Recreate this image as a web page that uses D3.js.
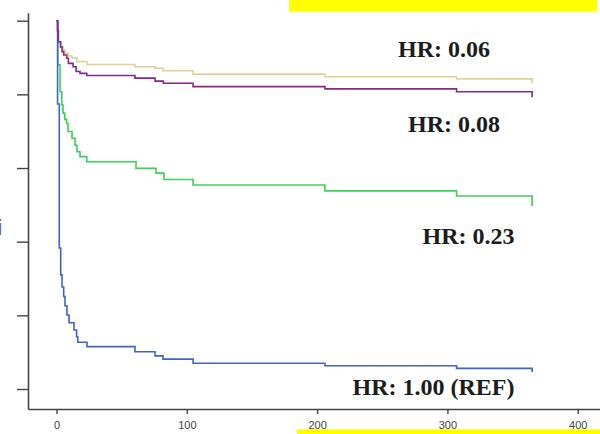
<!DOCTYPE html>
<html>
<head>
<meta charset="utf-8">
<script src="https://cdn.jsdelivr.net/npm/d3@7"></script>
<style>
  html, body { margin: 0; padding: 0; background: #fff; }
  svg { display: block; }
</style>
</head>
<body>
<svg id="chart" width="600" height="434"></svg>
<script>
// ---- data (days, survival proportion) ----
const xTicks = [0, 100, 200, 300, 400];
const yTicks = [0, 0.2, 0.4, 0.6, 0.8, 1.0];

const yellowTime = [0, 0.8, 1.4, 2.7, 5.0, 6.5, 9.1, 11.9, 15.7, 23.4, 60.2, 75.6, 81.7, 104.8, 206, 307, 365, 365];
const yellowSurv = [1.0, 0.973, 0.939, 0.929, 0.92, 0.912, 0.904, 0.899, 0.889, 0.881, 0.875, 0.871, 0.864, 0.855, 0.848, 0.842, 0.842, 0.83];

const purpleTime = [0, 0.8, 1.4, 3.2, 4.2, 5.5, 7.8, 9.1, 12.7, 15.0, 18.0, 23.2, 60.2, 75.6, 82.0, 104.8, 206, 307, 365, 365];
const purpleSurv = [1.0, 0.973, 0.943, 0.929, 0.916, 0.907, 0.898, 0.884, 0.875, 0.862, 0.857, 0.851, 0.844, 0.836, 0.83, 0.821, 0.815, 0.807, 0.807, 0.792];

const greenTime = [0, 1.0, 2.7, 4.0, 5.0, 6.3, 7.8, 8.8, 11.9, 14.2, 15.7, 18.0, 23.2, 61.0, 76.4, 82.5, 104.8, 206, 307, 365, 365];
const greenSurv = [1.0, 0.88, 0.807, 0.771, 0.749, 0.732, 0.721, 0.699, 0.681, 0.662, 0.644, 0.631, 0.617, 0.599, 0.586, 0.569, 0.554, 0.538, 0.524, 0.524, 0.497];

const blueTime = [0, 0.8, 2.1, 3.2, 4.2, 5.5, 6.5, 8.0, 9.6, 13.4, 15.4, 16.3, 23.4, 60.2, 75.6, 81.7, 104.8, 206, 307, 365, 365];
const blueSurv = [1.0, 0.774, 0.383, 0.31, 0.277, 0.251, 0.226, 0.201, 0.18, 0.16, 0.142, 0.127, 0.115, 0.101, 0.09, 0.081, 0.07, 0.063, 0.056, 0.056, 0.046];

const seriesNames = ["yellow", "green", "blue", "purple"];
const seriesColors = { yellow: "#ddd396", green: "#3ccf5a", blue: "#4262cc", purple: "#84288a" };
const seriesData = {
  yellow: [yellowTime, yellowSurv],
  green: [greenTime, greenSurv],
  blue: [blueTime, blueSurv],
  purple: [purpleTime, purpleSurv]
};

const hrLabels = ["HR: 0.06", "HR: 0.08", "HR: 0.23", "HR: 1.00 (REF)"];

// ---- drawing ----
const svg = d3.select("#chart");

const x = d3.scaleLinear().domain([-21.9, 417.1]).range([28, 600]);
const y = d3.scaleLinear().domain([-0.0543, 1.0217]).range([409, 12.7]);

// highlight bands
svg.append("rect").attr("x", 289).attr("y", 0).attr("width", 308).attr("height", 11.7).attr("fill", "#ffff00");
svg.append("rect").attr("x", 297).attr("y", 429.3).attr("width", 303).attr("height", 5).attr("fill", "#ffff00");

// axes
const axisColor = "#444";
const xAxis = svg.append("g").attr("transform", `translate(0,409)`)
  .call(d3.axisBottom(x).tickValues(xTicks).tickSize(5).tickSizeOuter(0).tickFormat(d3.format("d")));
xAxis.select(".domain").attr("stroke", axisColor).attr("stroke-width", 1.6);
xAxis.selectAll(".tick line").attr("stroke", axisColor).attr("stroke-width", 1.4);
xAxis.selectAll(".tick text").attr("fill", "#444").attr("font-family", "Liberation Sans, Arial, sans-serif")
  .attr("font-size", 11).attr("dy", null).attr("y", 19.5);

const yAxis = svg.append("g").attr("transform", `translate(28,0)`)
  .call(d3.axisLeft(y).tickValues(yTicks).tickSize(11).tickSizeOuter(0).tickFormat(""));
yAxis.select(".domain").attr("stroke", axisColor).attr("stroke-width", 1.6);
yAxis.selectAll(".tick line").attr("stroke", axisColor).attr("stroke-width", 1.4);

// cropped y-axis title fragment
svg.append("text").attr("x", -2.5).attr("y", 235).attr("font-family", "Liberation Sans, Arial, sans-serif")
  .attr("font-size", 22).attr("fill", "#666").text("i");

// survival curves
const line = d3.line().x(d => x(d[0])).y(d => y(d[1])).curve(d3.curveStepAfter);
seriesNames.forEach(name => {
  const [t, s] = seriesData[name];
  const pts = t.map((tt, i) => [tt, s[i]]);
  svg.append("path").datum(pts)
    .attr("d", line)
    .attr("fill", "none")
    .attr("stroke", seriesColors[name])
    .attr("stroke-width", 1.6)
    .attr("stroke-linejoin", "miter");
});

// HR labels
const labelPos = [[398, 57], [408, 132], [422.5, 244], [352.5, 395]];
hrLabels.forEach((txt, i) => {
  svg.append("text")
    .attr("x", labelPos[i][0]).attr("y", labelPos[i][1])
    .attr("font-family", "Liberation Serif, Times New Roman, serif")
    .attr("font-weight", "bold")
    .attr("font-size", 24)
    .attr("fill", "#1c1c1c")
    .text(txt);
});
</script>
</body>
</html>
